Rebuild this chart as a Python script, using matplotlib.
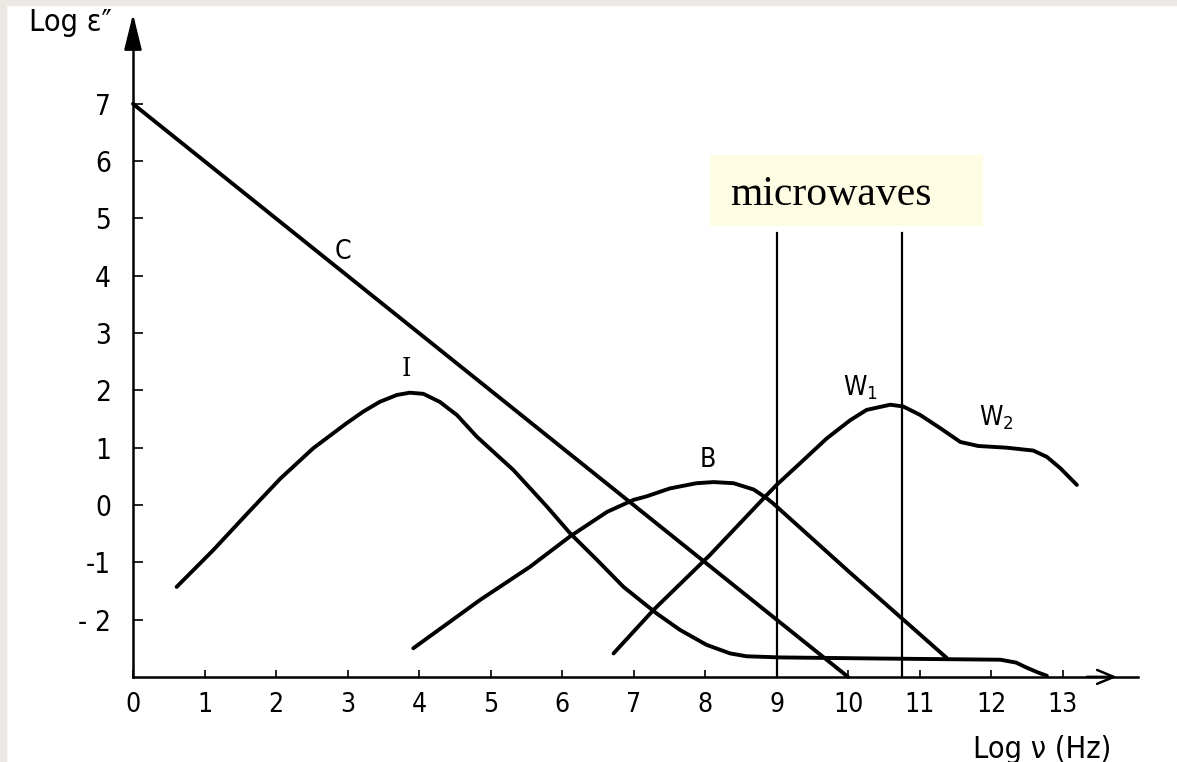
import matplotlib
matplotlib.use("Agg")
import matplotlib.pyplot as plt
from matplotlib.patches import Rectangle

# log10 of frequency (Hz) vs log10 of dielectric loss for each mechanism
c_x = [0.0, 10.0]
c_y = [7.0, -3.0]

i_x = [0.61, 1.12, 1.59, 2.06, 2.52, 2.99, 3.22, 3.45, 3.69, 3.87, 4.06, 4.29,
       4.53, 4.81, 5.32, 5.79, 6.11, 6.49, 6.86, 7.32, 7.65, 8.02, 8.35, 8.58,
       9.05, 10.5, 12.13, 12.35, 12.5, 12.65, 12.78]
i_y = [-1.43, -0.79, -0.16, 0.46, 0.99, 1.43, 1.63, 1.80, 1.92, 1.96, 1.94, 1.80,
       1.57, 1.19, 0.61, -0.03, -0.49, -0.96, -1.43, -1.89, -2.18, -2.44, -2.59, -2.64,
       -2.66, -2.68, -2.70, -2.75, -2.84, -2.92, -2.98]

b_x = [3.92, 4.85, 5.55, 6.11, 6.63, 7.0, 7.18, 7.51, 7.88, 8.12, 8.40, 8.68,
       8.86, 8.95, 10.0, 11.38]
b_y = [-2.50, -1.66, -1.08, -0.55, -0.12, 0.09, 0.15, 0.29, 0.38, 0.40, 0.38, 0.27,
       0.12, 0.03, -1.15, -2.67]

w_x = [6.72, 7.28, 8.07, 8.86, 9.0, 9.33, 9.70, 10.03, 10.26, 10.59, 10.77, 11.01,
       11.29, 11.57, 11.82, 12.22, 12.59, 12.78, 12.97, 13.2]
w_y = [-2.59, -1.83, -0.87, 0.17, 0.35, 0.73, 1.16, 1.48, 1.66, 1.75, 1.72, 1.57,
       1.34, 1.10, 1.03, 1.00, 0.95, 0.84, 0.64, 0.35]

band_x = [9.0, 10.75]
band_top = 4.75

x_ticks = list(range(0, 14))
x_labels = [str(t) for t in x_ticks]
y_ticks = [-2, -1, 0, 1, 2, 3, 4, 5, 6, 7]
y_labels = ['- 2', '-1', '0', '1', '2', '3', '4', '5', '6', '7']

plt.rcParams['font.family'] = ['DejaVu Sans']
plt.rcParams['font.stretch'] = 'condensed'
plt.rcParams['mathtext.fontset'] = 'dejavusans'

fig = plt.figure(figsize=(11.77, 7.62), dpi=100)
fig.patch.set_facecolor('white')
ax = fig.add_axes([0, 0, 1, 1])
ax.set_facecolor('white')
ax.set_xlim(-1.86, 14.6)
ax.set_ylim(-4.485, 8.813)

# grey page edge on top and left
fig.patches.append(Rectangle((0, 0), 6 / 1177, 1, transform=fig.transFigure,
                             color='#ece9e5', zorder=10))
fig.patches.append(Rectangle((0, 1 - 5 / 762), 1, 5 / 762, transform=fig.transFigure,
                             color='#ece9e5', zorder=10))

for s in ['top', 'right']:
    ax.spines[s].set_visible(False)
ax.spines['left'].set_position(('data', 0))
ax.spines['bottom'].set_position(('data', -3))
ax.spines['left'].set_bounds(-3, 8.2)
ax.spines['bottom'].set_bounds(0, 14.05)
ax.spines['left'].set_linewidth(1.8)
ax.spines['bottom'].set_linewidth(1.8)

ax.set_xticks(x_ticks)
ax.set_xticklabels(x_labels)
ax.set_yticks(y_ticks)
ax.set_yticklabels(y_labels)
ax.tick_params(axis='x', direction='in', length=5, width=1.2, pad=11, labelsize=19)
ax.tick_params(axis='y', direction='in', length=7, width=1.2, pad=16, labelsize=20)

# axis arrows
ax.annotate('', xy=(0, 8.62), xytext=(0, 8.0),
            arrowprops=dict(arrowstyle='-|>,head_length=1.1,head_width=0.27',
                            color='black', lw=1.8, mutation_scale=20))
ax.annotate('', xy=(13.8, -3), xytext=(13.3, -3),
            arrowprops=dict(arrowstyle='->,head_length=0.6,head_width=0.25',
                            color='black', lw=1.8, mutation_scale=20))

lw = 2.8
ax.plot(c_x, c_y, color='black', lw=lw, solid_capstyle='round')
for xs, ys in [(i_x, i_y), (b_x, b_y), (w_x, w_y)]:
    ax.plot(xs, ys, color='black', lw=lw, solid_capstyle='round',
            solid_joinstyle='round')

for bx in band_x:
    ax.plot([bx, bx], [-3, band_top], color='black', lw=1.6)

# microwave band label
ax.add_patch(Rectangle((8.07, 4.87), 3.82, 1.24, facecolor='#fefce3',
                       edgecolor='none', zorder=3))
ax.text(8.35, 5.24, 'microwaves', family=['Liberation Serif', 'DejaVu Serif'],
        fontsize=30, ha='left', va='baseline', zorder=4)

# curve names
ax.text(2.94, 4.42, 'C', fontsize=19, ha='center', va='center')
ax.text(3.83, 2.39, 'I', fontsize=19, ha='center', va='center',
        family=['DejaVu Serif'])
ax.text(8.04, 0.79, 'B', fontsize=19, ha='center', va='center')
ax.text(10.17, 2.04, r'W$_1$', fontsize=19, ha='center', va='center')
ax.text(12.08, 1.52, r'W$_2$', fontsize=19, ha='center', va='center')

ax.text(-1.45, 8.42, "Log ε″", fontsize=22, ha='left', va='center')
ax.text(12.72, -4.26, 'Log ν (Hz)', fontsize=22, ha='center', va='center')

fig.savefig('out.png', dpi=100, facecolor=fig.get_facecolor())
